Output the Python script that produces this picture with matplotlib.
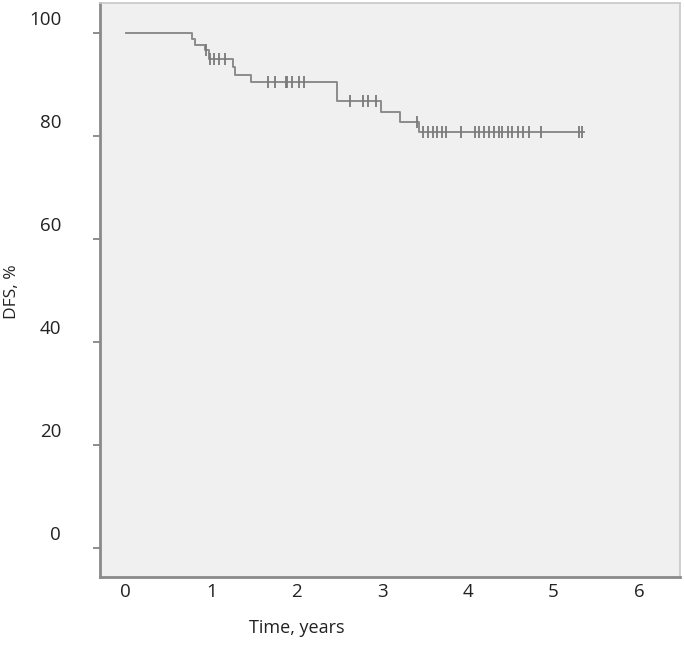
import matplotlib
matplotlib.use('Agg')

import numpy as np
import matplotlib.pyplot as plt
from matplotlib.transforms import ScaledTranslation

# Kaplan-Meier: моменты событий (годы) и уровень DFS (%) после каждого события
event_times = [0.0, 0.77, 0.81, 0.93, 0.97, 1.25, 1.28, 1.46, 2.47, 2.98, 3.21, 3.43]
event_surv = [100.0, 98.8, 97.7, 96.6, 95.0, 93.4, 91.9, 90.4, 86.7, 84.6, 82.8, 80.8]

# цензурированные наблюдения (годы)
censor_times = [0.94, 0.99, 1.03, 1.09, 1.16,
                1.66, 1.74, 1.87, 1.89, 1.95, 2.03, 2.09,
                2.62, 2.78, 2.83, 2.93, 3.40,
                3.47, 3.53, 3.59, 3.64, 3.70, 3.75, 3.92, 4.08, 4.13, 4.19,
                4.25, 4.31, 4.37, 4.40, 4.47, 4.52, 4.59, 4.64, 4.71, 4.86,
                5.30, 5.33]
last_time = 5.36

x_ticks = [0, 1, 2, 3, 4, 5, 6]
y_ticks = [0, 20, 40, 60, 80, 100]

plt.rcParams['font.family'] = ['Open Sans', 'DejaVu Sans']

fig = plt.figure(figsize=(6.84, 6.62), dpi=100)
fig.patch.set_facecolor('white')
ax = fig.add_axes([100 / 684, 1 - 577 / 662, 580 / 684, 574 / 662])
ax.set_facecolor('#f0f0f0')

line_color = '#8c8c8c'
xs = list(event_times) + [last_time]
ys = list(event_surv) + [event_surv[-1]]
ax.step(xs, ys, where='post', color=line_color, linewidth=1.4)

# уровень кривой в моменты цензурирования
idx = np.searchsorted(event_times, censor_times, side='right') - 1
censor_surv = np.array(event_surv)[idx]
ax.plot(censor_times, censor_surv, linestyle='none', marker='|',
        markersize=9, markeredgewidth=1.3, color='#7a7a7a')

ax.set_xlim(-0.30, 6.48)
ax.set_ylim(-5.6, 105.8)

ax.set_xticks(x_ticks)
ax.set_xticklabels([str(v) for v in x_ticks], fontsize=13.5, color='#222222')
ax.set_yticks(y_ticks)
ax.set_yticklabels([str(v) for v in y_ticks], fontsize=13.5, color='#222222')

ax.tick_params(axis='x', length=0, pad=4)
ax.tick_params(axis='y', length=5, width=1.2, color='#7a7a7a', pad=23)

# подписи оси Y в оригинале сдвинуты вверх относительно делений
shift = ScaledTranslation(0, 0.15, fig.dpi_scale_trans)
for lbl in ax.get_yticklabels():
    lbl.set_transform(lbl.get_transform() + shift)

for side in ['left', 'bottom']:
    ax.spines[side].set_color('#8a8a8a')
    ax.spines[side].set_linewidth(2.0)
for side in ['top', 'right']:
    ax.spines[side].set_color('#c8c8c8')
    ax.spines[side].set_linewidth(1.2)

fig.text(12 / 684, 1 - 292 / 662, 'DFS, %', rotation=90, ha='center', va='center',
         fontsize=12.5, color='#222222')
fig.text(297 / 684, 1 - 628 / 662, 'Time, years', ha='center', va='center',
         fontsize=13, color='#222222')

fig.savefig('out.png', dpi=100)
plt.close(fig)
